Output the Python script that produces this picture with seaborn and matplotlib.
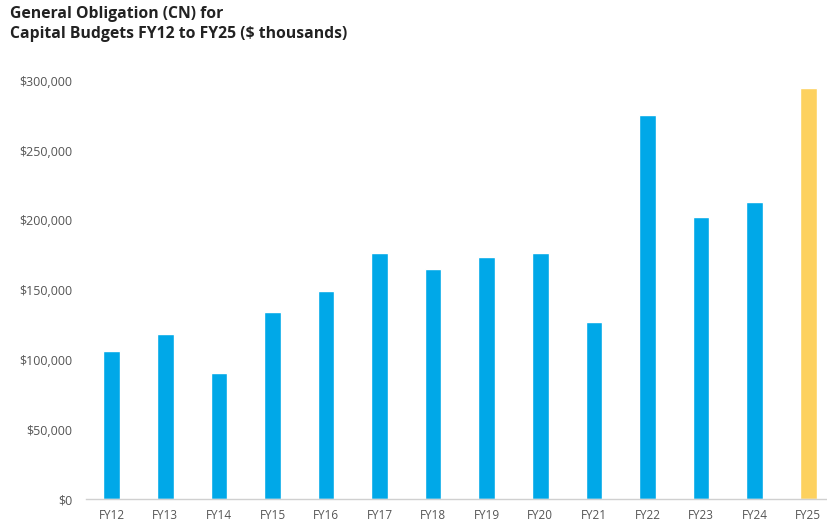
import matplotlib
matplotlib.use("Agg")
import matplotlib.pyplot as plt
import matplotlib.ticker as mticker
import seaborn as sns
import pandas as pd

years = ["FY12", "FY13", "FY14", "FY15", "FY16", "FY17", "FY18",
         "FY19", "FY20", "FY21", "FY22", "FY23", "FY24", "FY25"]
values = [106500, 118500, 90500, 134000, 149500, 177000, 165000,
          173500, 177000, 127500, 275500, 202500, 213500, 295000]
highlight = ["past"] * 13 + ["current"]

df = pd.DataFrame({"year": years, "value": values, "kind": highlight})

sns.set_theme(style="white")
plt.rcParams["font.family"] = ["Open Sans", "DejaVu Sans"]

fig = plt.figure(figsize=(8.27, 5.29), dpi=100)
ax = fig.add_axes([86 / 827, (529 - 499.3) / 529, (827 - 86) / 827, (499.3 - 81) / 529])

palette = {"past": "#00A8E8", "current": "#FDD15F"}
sns.barplot(data=df, x="year", y="value", hue="kind", palette=palette,
            width=0.31, dodge=False, legend=False, ax=ax, saturation=1)

ax.set_ylim(0, 300000)
ax.set_xlim(-0.48, 13.35)
ax.yaxis.set_major_locator(mticker.MultipleLocator(50000))
ax.yaxis.set_major_formatter(mticker.FuncFormatter(lambda v, p: f"${v:,.0f}"))
ax.set_xlabel("")
ax.set_ylabel("")
for s in ["top", "right", "left"]:
    ax.spines[s].set_visible(False)
ax.spines["bottom"].set_color("#d0d0d0")
ax.spines["bottom"].set_linewidth(1)
ax.tick_params(axis="y", length=0, pad=10, labelsize=9, labelcolor="#555555")
ax.tick_params(axis="x", length=0, pad=7, labelsize=8.5, labelcolor="#555555")

fig.text(10 / 827, 1 - 14 / 529, "General Obligation (CN) for", fontsize=11.3,
         fontweight="bold", color="#222222", va="center", ha="left")
fig.text(10 / 827, 1 - 34 / 529, "Capital Budgets FY12 to FY25 ($ thousands)", fontsize=11.3,
         fontweight="bold", color="#222222", va="center", ha="left")

fig.savefig("out.png", dpi=100)
